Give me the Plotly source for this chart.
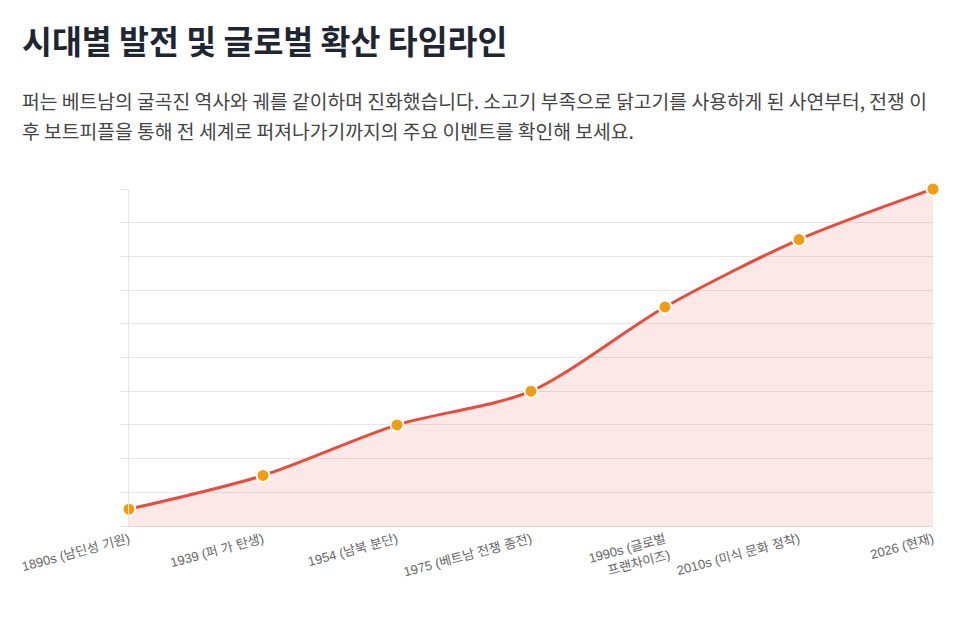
import plotly.graph_objects as go

# === DATA ===
eras = [
    "1890s (남딘성 기원)",
    "1939 (퍼 가 탄생)",
    "1954 (남북 분단)",
    "1975 (베트남 전쟁 종전)",
    "1990s (글로벌<br>프랜차이즈)",
    "2010s (미식 문화 정착)",
    "2026 (현재)",
]
spread_level = [0.5, 1.5, 3.0, 4.0, 6.5, 8.5, 10.0]

TITLE = "시대별 발전 및 글로벌 확산 타임라인"
DESC_1 = "퍼는 베트남의 굴곡진 역사와 궤를 같이하며 진화했습니다. 소고기 부족으로 닭고기를 사용하게 된 사연부터, 전쟁 이"
DESC_2 = "후 보트피플을 통해 전 세계로 퍼져나가기까지의 주요 이벤트를 확인해 보세요."

FONT = "Noto Sans CJK KR, Noto Sans, sans-serif"
GRID = "#e6e6e6"

# === LAYOUT (page body has an 8px margin) ===
W, H = 959, 609
L, R, T, B = 119, 34, 181, 91
PW, PH = W - L - R, H - T - B


def px(x):
    return (x - L) / PW


def py(y):
    return (H - B - y) / PH


fig = go.Figure(go.Scatter(
    x=list(range(len(eras))),
    y=spread_level,
    mode="lines+markers",
    line=dict(color="#e74c3c", width=3, shape="spline", smoothing=0.8),
    marker=dict(size=13, color="#f39c12", line=dict(color="white", width=2)),
    fill="tozeroy",
    fillcolor="rgba(231,76,60,0.12)",
    cliponaxis=False,
    hoverinfo="skip",
))

fig.update_layout(
    width=W, height=H,
    margin=dict(l=L, r=R, t=T, b=B),
    paper_bgcolor="white", plot_bgcolor="white",
    font=dict(family=FONT),
    showlegend=False,
    annotations=[
        dict(text="<b>" + TITLE + "</b>", xref="paper", yref="paper",
             x=px(10), y=py(32), xanchor="left", yanchor="middle",
             showarrow=False, font=dict(size=32.5, color="#1f2633", family=FONT)),
        dict(text=DESC_1, xref="paper", yref="paper",
             x=px(10), y=py(93), xanchor="left", yanchor="middle",
             showarrow=False, font=dict(size=19.3, color="#444444", family=FONT)),
        dict(text=DESC_2, xref="paper", yref="paper",
             x=px(10), y=py(123), xanchor="left", yanchor="middle",
             showarrow=False, font=dict(size=19.3, color="#444444", family=FONT)),
    ],
)

fig.update_xaxes(
    range=[0, len(eras) - 1],
    tickmode="array", tickvals=list(range(len(eras))), ticktext=eras,
    tickangle=-15,
    tickfont=dict(size=13, color="#666666", family="Liberation Sans, Noto Sans CJK KR, sans-serif"),
    showgrid=False, zeroline=False,
    showline=True, linecolor="#d8d8d8", linewidth=1,
    ticks="", fixedrange=True,
)
fig.update_yaxes(
    range=[0, 10], dtick=1,
    showticklabels=False,
    showgrid=True, gridcolor=GRID, gridwidth=1,
    zeroline=False,
    showline=True, linecolor=GRID, linewidth=1,
    ticks="outside", ticklen=8, tickcolor=GRID,
    fixedrange=True,
)

fig.write_html("out.html")
